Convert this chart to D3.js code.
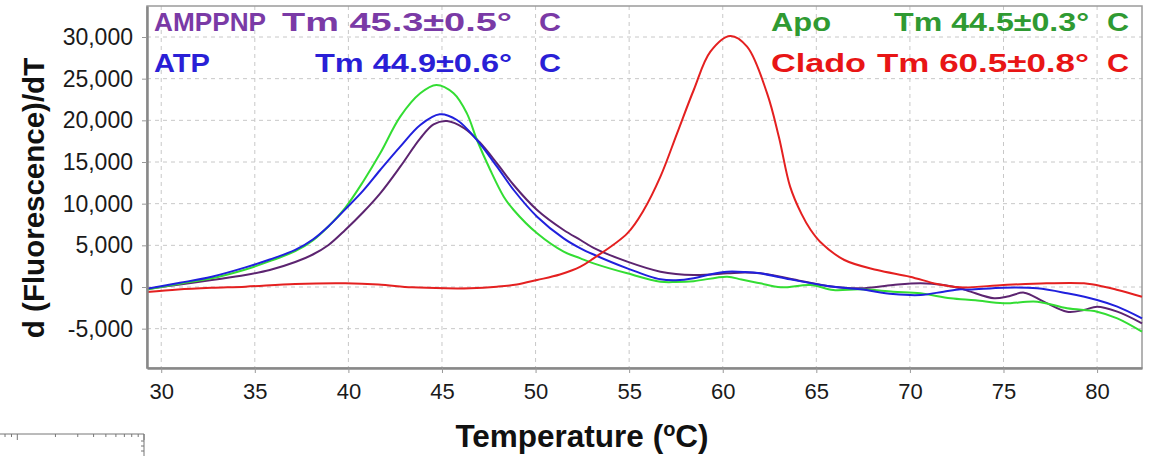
<!DOCTYPE html>
<html>
<head>
<meta charset="utf-8">
<script src="https://cdn.jsdelivr.net/npm/d3@7"></script>
<style>
  html, body { margin: 0; padding: 0; background: #fff; }
  svg { display: block; font-family: "Liberation Sans", Arial, sans-serif; }
</style>
</head>
<body>
<svg id="chart" width="1149" height="456"></svg>
<script>
// ---------- data ----------
const xTicks = [30, 35, 40, 45, 50, 55, 60, 65, 70, 75, 80];
const yTicks = [-5000, 0, 5000, 10000, 15000, 20000, 25000, 30000];
const xDomain = [29.24, 82.4];
const yDomain = [-9720, 33720];

const seriesNames = ["AMPPNP", "ATP", "Apo", "Clado"];
const tmLabels = ["Tm 45.3\u00B10.5\u00B0", "Tm 44.9\u00B10.6\u00B0", "Tm 44.5\u00B10.3\u00B0", "Tm 60.5\u00B10.8\u00B0"];

// [temperature, d(Fluorescence)/dT]
const amppnp = [[29.24,-250],[31,300],[32.7,840],[34.5,1440],[35.8,2040],[37.16,3000],[38.1,3900],[38.94,5040],[39.83,6840],[40.8,9000],[41.7,11240],[42.77,14440],[43.84,17840],[44.55,19520],[45.27,19920],[46.2,19040],[47.0,17400],[47.94,14840],[48.83,12240],[50.08,9240],[51.5,6840],[52.4,5640],[53.1,4700],[54.9,3040],[56.67,1840],[58.45,1440],[60.24,1640],[61.2,1750],[62.0,1640],[63.6,1000],[65.6,120],[67.36,-160],[69.1,240],[70.57,440],[71.8,240],[72.7,-160],[73.24,-560],[74.5,-1360],[75.3,-1100],[76.1,-680],[77.15,-1760],[78.4,-2960],[79.3,-2760],[80.0,-2360],[81.08,-2960],[82.4,-4360]];
const apo = [[29.24,-300],[31,400],[32.7,1040],[34.5,2100],[35.8,3100],[37.16,4300],[38.1,5600],[38.94,7300],[39.83,9500],[40.8,12700],[41.7,16040],[42.77,20440],[43.84,23240],[44.7,24240],[45.62,23240],[46.33,20840],[46.87,17640],[47.58,14040],[48.3,10840],[48.83,9240],[50.08,6440],[51.5,4240],[52.4,3440],[53.1,2840],[54.9,1640],[56.67,640],[57.5,600],[58.45,700],[60.24,1240],[61.0,900],[62.0,440],[63.1,-40],[64.7,240],[65.9,-360],[67.36,-280],[69.1,-560],[70.57,-760],[72.17,-1360],[73.5,-1600],[75.0,-1960],[76.8,-1760],[78.4,-2560],[80.0,-2960],[81.08,-3760],[82.4,-5360]];
const atp = [[29.24,-200],[31,500],[32.7,1240],[34.5,2360],[35.8,3300],[37.16,4450],[38.1,5700],[38.94,7300],[39.83,9320],[40.8,11600],[41.7,14040],[42.77,16840],[43.84,19440],[44.88,20720],[45.8,20040],[46.87,17640],[47.94,14440],[48.83,11640],[50.08,8440],[51.5,5840],[52.4,4640],[53.1,3900],[54.9,2240],[56.67,920],[57.5,800],[58.45,1040],[59.3,1500],[60.24,1840],[61.2,1800],[62.0,1640],[63.6,920],[65.6,120],[67.36,-280],[69.1,-840],[70.57,-960],[71.8,-560],[72.7,-280],[73.2,-300],[75.0,-80],[76.8,-160],[78.4,-760],[80.0,-1560],[81.08,-2360],[82.4,-3760]];
const clado = [[29.24,-600],[30.9,-300],[32.7,-100],[34.5,40],[37.16,360],[39.83,440],[41.6,300],[43.4,-40],[45.2,-160],[46.5,-150],[47.94,40],[49.0,300],[50.08,840],[51.3,1500],[52.4,2440],[53.1,3440],[54.9,6440],[55.78,9240],[56.67,13240],[57.56,18440],[58.45,23640],[59.34,28240],[60.4,30120],[61.3,28840],[62.37,23240],[63.0,18000],[63.6,12040],[64.2,8800],[64.7,6840],[65.2,5440],[66.5,3240],[68.25,2040],[70.0,1240],[71.45,360],[72.7,-40],[75.0,240],[77.3,440],[79.3,440],[80.37,40],[81.1,-360],[82.4,-1160]];

const lineColors = { AMPPNP: "#5c2470", Apo: "#33dd33", ATP: "#2020dd", Clado: "#e42020" };
const textColors = { AMPPNP: "#7a3aa6", Apo: "#2f9a32", ATP: "#2a1fd6", Clado: "#e81515" };

// ---------- layout ----------
const svg = d3.select("#chart");
const plot = { left: 147, right: 1142, top: 6, bottom: 368 };

const x = d3.scaleLinear().domain(xDomain).range([plot.left, plot.right]);
const y = d3.scaleLinear().domain(yDomain).range([plot.bottom, plot.top]);

const fmt = d3.formatLocale({ decimal: ".", thousands: ",", grouping: [3], currency: ["", ""], minus: "-" }).format(",");

// grid
const grid = svg.append("g");
grid.selectAll("line.v").data(xTicks).join("line")
  .attr("x1", d => x(d)).attr("x2", d => x(d))
  .attr("y1", plot.top).attr("y2", plot.bottom)
  .attr("stroke", "#c8c8c8").attr("stroke-width", 1).attr("stroke-dasharray", "4,4");
grid.selectAll("line.h").data(yTicks).join("line")
  .attr("x1", plot.left).attr("x2", plot.right)
  .attr("y1", d => y(d)).attr("y2", d => y(d))
  .attr("stroke", "#c8c8c8").attr("stroke-width", 1).attr("stroke-dasharray", "4,4");

// frame
svg.append("rect")
  .attr("x", plot.left).attr("y", plot.top)
  .attr("width", plot.right - plot.left).attr("height", plot.bottom - plot.top)
  .attr("fill", "none").attr("stroke", "#9a9a9a").attr("stroke-width", 1.5);

// curves
const line = d3.line().x(d => x(d[0])).y(d => y(d[1])).curve(d3.curveCatmullRom.alpha(0.5));
const seriesData = { AMPPNP: amppnp, Apo: apo, ATP: atp, Clado: clado };
const drawOrder = ["AMPPNP", "Apo", "ATP", "Clado"];
const curves = svg.append("g");
drawOrder.forEach(name => {
  curves.append("path").datum(seriesData[name])
    .attr("d", line).attr("fill", "none")
    .attr("stroke", lineColors[name]).attr("stroke-width", 2)
    .attr("stroke-linejoin", "round");
});

// axes
const xAxis = svg.append("g").attr("transform", `translate(0,${plot.bottom})`)
  .call(d3.axisBottom(x).tickValues(xTicks).tickSize(5).tickSizeOuter(0).tickPadding(10));
xAxis.select(".domain").attr("stroke", "#888").attr("stroke-width", 2.5);
xAxis.selectAll(".tick line").attr("stroke", "#999");
xAxis.selectAll(".tick text").attr("font-size", 22).attr("fill", "#1a1a1a");

const yAxis = svg.append("g").attr("transform", `translate(${plot.left},0)`)
  .call(d3.axisLeft(y).tickValues(yTicks).tickFormat(fmt).tickSize(5).tickSizeOuter(0).tickPadding(9));
yAxis.select(".domain").attr("stroke", "#888").attr("stroke-width", 2.5);
yAxis.selectAll(".tick line").attr("stroke", "#999");
yAxis.selectAll(".tick text").attr("font-size", 23).attr("fill", "#1a1a1a");

// axis titles
svg.append("text")
  .attr("transform", `translate(44,${(plot.top + plot.bottom) / 2 + 11}) rotate(-90)`)
  .attr("text-anchor", "middle").attr("font-weight", "bold").attr("font-size", 29.5)
  .attr("fill", "#111").text("d (Fluorescence)/dT");

const xt = svg.append("text")
  .attr("x", 582).attr("y", 447).attr("text-anchor", "middle")
  .attr("font-weight", "bold").attr("font-size", 31.5).attr("fill", "#111");
xt.append("tspan").text("Temperature (");
xt.append("tspan").attr("font-size", 20).attr("dy", -11).text("o");
xt.append("tspan").attr("dy", 11).text("C)");

// legend texts: pieces [text, x, width]
const legendRows = [
  { name: "AMPPNP", by: 31, pieces: [[seriesNames[0],154,112],[tmLabels[0],282,230],["C",539,22]] },
  { name: "ATP",    by: 72, pieces: [[seriesNames[1],154,56],[tmLabels[1],315,197],["C",539,22]] },
  { name: "Apo",    by: 31, pieces: [[seriesNames[2],771,60],[tmLabels[2],894,195],["C",1107,22]] },
  { name: "Clado",  by: 72, pieces: [[seriesNames[3],771,95],[tmLabels[3],877,212],["C",1107,22]] }
];
const lg = svg.append("g").attr("font-weight", "bold").attr("font-size", 25);
legendRows.forEach(r => {
  r.pieces.forEach(p => {
    lg.append("text").attr("x", p[1]).attr("y", r.by)
      .attr("textLength", p[2]).attr("lengthAdjust", "spacingAndGlyphs")
      .attr("fill", textColors[r.name]).text(p[0]);
  });
});

// small ruler fragment at bottom-left (log-scale scrap)
const rulerScale = d3.scaleLog().domain([1, 10]).range([17.3, 144]);
const ruler = svg.append("g").attr("transform", "translate(0,434)");
ruler.append("line").attr("x1", 0).attr("x2", 144).attr("y1", 0).attr("y2", 0).attr("stroke", "#777").attr("stroke-width", 1);
const rulerTicks = [0.7, 0.8, 0.9, 1, 2, 3, 4, 5, 6, 7, 8, 9, 10];
ruler.selectAll("line.t").data(rulerTicks).join("line")
  .attr("x1", d => rulerScale(d)).attr("x2", d => rulerScale(d))
  .attr("y1", 0).attr("y2", d => (d === 1 || d === 10) ? 6 : 3)
  .attr("stroke", "#777").attr("stroke-width", 1);
ruler.append("line").attr("x1", 144).attr("x2", 144).attr("y1", 0).attr("y2", 22).attr("stroke", "#777").attr("stroke-width", 1);
ruler.selectAll("line.s").data([7, 12, 17]).join("line")
  .attr("x1", 141).attr("x2", 144).attr("y1", d => d).attr("y2", d => d)
  .attr("stroke", "#777").attr("stroke-width", 1);
</script>
</body>
</html>
